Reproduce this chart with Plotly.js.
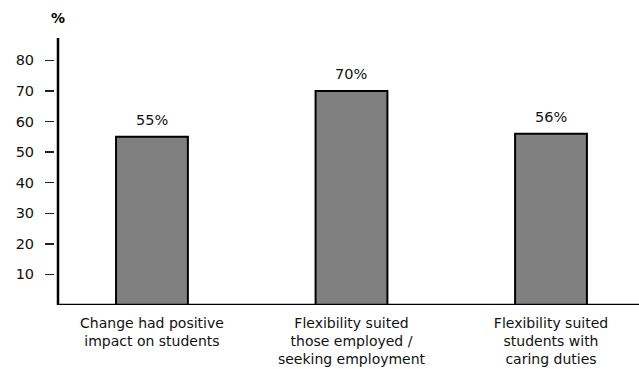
<!DOCTYPE html>
<html>
<head>
<meta charset="utf-8">
<script src="https://cdn.plot.ly/plotly-3.0.1.min.js"></script>
<style>
  html, body { margin: 0; padding: 0; background: #fff; }
  #chart { width: 639px; height: 369px; }
</style>
</head>
<body>
<div id="chart"></div>
<script>
// Survey responses: share of respondents agreeing with each statement
const categories = [
  "Change had positive<br>impact on students",
  "Flexibility suited<br>those employed /<br>seeking employment",
  "Flexibility suited<br>students with<br>caring duties"
];
const values = [55, 70, 56];
const valueLabels = ["55%", "70%", "56%"];
const yTicks = [10, 20, 30, 40, 50, 60, 70, 80];

const FONT = "'DejaVu Sans', sans-serif";
const positions = categories.map((_, i) => i);

const trace = {
  type: "bar",
  x: positions,
  y: values,
  width: 0.36,
  marker: { color: "#808080", line: { color: "#000", width: 2 } },
  hoverinfo: "skip"
};

// value labels above each bar
const annotations = positions.map((p, i) => ({
  x: p, y: values[i], xref: "x", yref: "y",
  text: valueLabels[i], showarrow: false,
  yanchor: "bottom", yshift: 7,
  font: { family: FONT, size: 14.5, color: "#111" }
}));

// unit label above the value axis
annotations.push({
  x: 3 / 584, y: 1, xref: "paper", yref: "paper",
  yshift: 20, text: "<b>%</b>", showarrow: false,
  xanchor: "center", yanchor: "middle",
  font: { family: FONT, size: 14, color: "#000" }
});

const layout = {
  width: 639, height: 369,
  margin: { l: 55, r: 0, t: 38, b: 64, pad: 0 },
  paper_bgcolor: "#fff", plot_bgcolor: "#fff",
  showlegend: false,
  font: { family: FONT, color: "#000" },
  xaxis: {
    range: [-0.486, 2.441],
    tickvals: positions, ticktext: categories,
    showline: false, showgrid: false, zeroline: false,
    ticks: "", ticklabelstandoff: 8,
    tickfont: { family: FONT, size: 14, color: "#111" },
    fixedrange: true
  },
  yaxis: {
    range: [0, 87.3],
    tickvals: yTicks,
    showline: false, showgrid: false, zeroline: false,
    ticks: "outside", ticklen: 9, tickwidth: 1.5, tickcolor: "#222",
    ticklabelstandoff: 8,
    tickfont: { family: FONT, size: 14.5, color: "#111" },
    fixedrange: true
  },
  shapes: [
    { type: "line", xref: "paper", yref: "paper", x0: 3 / 584, x1: 3 / 584, y0: 0, y1: 1,
      line: { color: "#000", width: 2.5 } },
    { type: "line", xref: "paper", yref: "y", x0: 3 / 584, x1: 1, y0: 0, y1: 0,
      line: { color: "#000", width: 2.5 } }
  ],
  annotations: annotations
};

Plotly.newPlot("chart", [trace], layout, { displayModeBar: false, staticPlot: true });
</script>
</body>
</html>
